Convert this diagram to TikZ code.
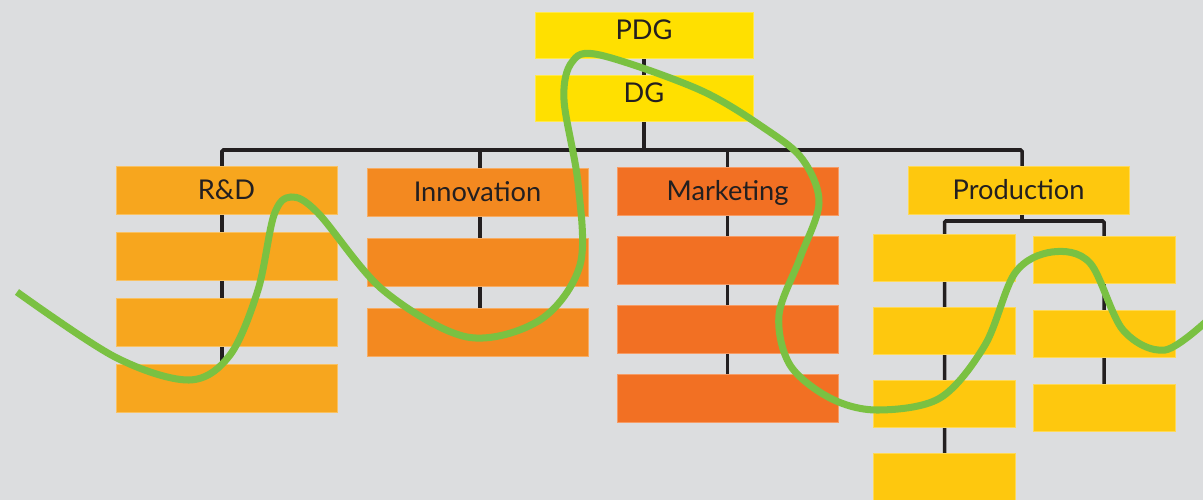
\documentclass[tikz,border=0pt]{standalone}
\usepackage{fontspec}
\setmainfont{Lato}
\usetikzlibrary{positioning,backgrounds}
\definecolor{canvas}{RGB}{220,221,223}
\definecolor{ceo}{RGB}{255,224,0}
\definecolor{rnd}{RGB}{247,166,30}
\definecolor{innov}{RGB}{243,137,32}
\definecolor{market}{RGB}{242,112,35}
\definecolor{prod}{RGB}{254,200,14}
\definecolor{ink}{RGB}{35,31,32}
\definecolor{scribble}{RGB}{122,193,66}
\pgfdeclarelayer{wires}
\pgfsetlayers{background,wires,main}

\begin{document}
\begin{tikzpicture}[
  x=0.02cm, y=-0.02cm,
  unit/.style={fill=#1, draw=#1!70!white, line width=0.3pt, inner sep=0pt, outer sep=0pt,
    minimum width=4.42cm, minimum height=0.96cm, text=ink,
    text height=10.8pt, text depth=0pt,
    font=\fontsize{15.5}{17}\selectfont},
  chief/.style={unit=ceo, minimum width=4.36cm, minimum height=0.92cm,
    text height=8.5pt, text depth=3.6pt},
  subunit/.style={unit=prod, minimum width=2.84cm, minimum height=0.94cm},
  wire/.style={draw=ink, line width=2pt, rounded corners=0.8pt},
  freehand/.style={draw=scribble, line width=4pt, line cap=butt}
]
\useasboundingbox (0,0) rectangle (1203,500);
\begin{scope}[on background layer]
  \fill[canvas] (0,0) rectangle (1203,500);
\end{scope}

% top management
\node[chief] (pdg) at (644,35) {PDG};
\node[chief] (dg) at (644,98) {DG};
\coordinate (bus) at (644,150);

% departments
\node[unit=rnd] (rd) at (226.5,190) {R\&D};
\node[unit=rnd, below=0.36cm of rd] (rd2) {};
\node[unit=rnd, below=0.36cm of rd2] (rd3) {};
\node[unit=rnd, below=0.36cm of rd3] (rd4) {};

\node[unit=innov] (inn) at (477.5,192) {Innovation};
\node[unit=innov, below=0.44cm of inn] (inn2) {};
\node[unit=innov, below=0.44cm of inn2] (inn3) {};

\node[unit=market] (mkt) at (727.5,191) {Marketing};
\node[unit=market, below=0.42cm of mkt] (mkt2) {};
\node[unit=market, below=0.42cm of mkt2] (mkt3) {};
\node[unit=market, below=0.42cm of mkt3] (mkt4) {};

\node[unit=prod] (prd) at (1018.5,190) {Production};
\coordinate (subbus) at (1022,221);
\node[subunit] (pl1) at (944.5,257.5) {};
\node[subunit, below=0.52cm of pl1] (pl2) {};
\node[subunit, below=0.52cm of pl2] (pl3) {};
\node[subunit, below=0.52cm of pl3] (pl4) {};
\node[subunit] (pr1) at (1104,259.5) {};
\node[subunit, below=0.54cm of pr1] (pr2) {};
\node[subunit, below=0.54cm of pr2] (pr3) {};

% tree lines, kept behind the boxes
\begin{pgfonlayer}{wires}
  \draw[wire] (pdg) -- (dg);
  \draw[wire] (dg) -- (bus);
  \draw[wire] ([xshift=-0.09cm]rd4.north) |- (bus) -| ([xshift=0.07cm]prd.center);
  \draw[wire] ([xshift=0.05cm]inn3.north) -- ([xshift=0.05cm]inn.north |- bus);
  \draw[wire] (mkt4) -- (mkt.north |- bus);
  \draw[wire] (prd.center -| subbus) -- (subbus);
  \draw[wire] (pl4) |- (subbus) -| (pr3);
\end{pgfonlayer}

% green scribble across the chart
\draw[freehand] plot[smooth, tension=0.55] coordinates {
  (17,292) (115,357) (189,380) (230,355) (258,290) (274,215) (291,197)
  (318,213) (383,290) (467,337) (540,320) (580,265) (578,183) (564,100)
  (572,62) (600,55) (700,90) (767,130) (803,160) (819,203) (800,258)
  (779,315) (790,365) (830,398) (877,410) (940,398) (985,345) (1015,273)
  (1052,252) (1090,263) (1123,330) (1165,350) (1210,318)};
\end{tikzpicture}
\end{document}
